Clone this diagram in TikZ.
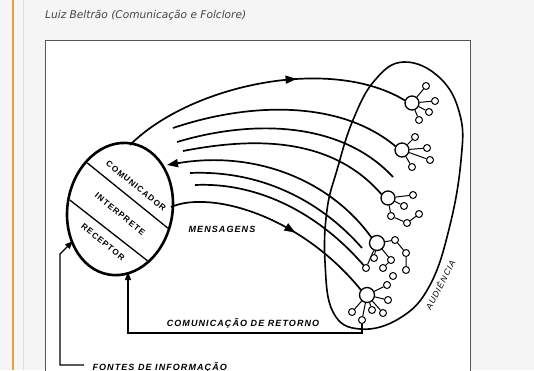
\documentclass[tikz,border=0pt]{standalone}
\usepackage{fontspec}
\newfontfamily\capfont{DejaVu Sans}
\newfontfamily\tagfont[LetterSpace=12]{Liberation Sans}
\usepackage{tikz}
\usetikzlibrary{positioning, shapes.geometric, arrows.meta, decorations.markings}
\definecolor{pagebg}{HTML}{F5F5F5}
\definecolor{barorange}{HTML}{E9A23B}
\definecolor{bargrey}{HTML}{DDDDDD}
\definecolor{boxline}{HTML}{555555}
\definecolor{captext}{HTML}{444444}

\tikzset{
  flow/.style={line width=1.7pt},
  backflow/.style={line width=1.3pt},
  midarrow/.style={postaction={decorate}, decoration={markings,
      mark=at position #1 with {\arrow{Triangle[length=11pt,width=8pt]}}}},
  member/.style={circle, draw, line width=1.3pt, minimum size=14pt, inner sep=0pt},
  peer/.style={circle, draw, line width=1pt, minimum size=7pt, inner sep=0pt},
  role/.style={font=\tagfont\bfseries\fontsize{8.3}{8.3}\selectfont, inner sep=1pt},
  tag/.style={font=\tagfont\bfseries\itshape\fontsize{9}{9}\selectfont}
}

\begin{document}
\begin{tikzpicture}[x=1pt,y=-1pt]
                    \useasboundingbox (0,0) rectangle (534,370);
                    \fill[pagebg] (0,0) rectangle (534,370);
                    \draw[barorange, line width=2pt] (12.5,0) -- (12.5,370);
                    \draw[bargrey, line width=1pt] (23,0) -- (23,370);
                    \node[anchor=base west, font=\capfont\itshape\fontsize{10.6}{11}\selectfont, text=captext, inner sep=0pt] (caption) at (45,18) {Luiz Beltrão (Comunicação e Folclore)};
                    \fill[white] (45,40) rectangle (470,372);
                    \draw[boxline, line width=1pt] (45,372) -- (45,40) -- (470,40) -- (470,372);

                    \begin{scope}
                    \clip (46,41) rectangle (469,370);

                    % communicator
                    \node[draw, ellipse, line width=2.6pt, minimum width=105pt, minimum height=133pt, inner sep=0pt, rotate=-10] (source) at (120,209) {};
                    \begin{scope}
                        \clip[rotate around={-10:(120,209)}] (120,209) ellipse [x radius=51, y radius=65];
                        \draw[line width=1.3pt] (75,153) -- (185,242);
                        \draw[line width=1.3pt] (57,190) -- (167,276);
                    \end{scope}
                    \node[role, rotate=-39] (speaker) at (136,186) {COMUNICADOR};
                    \node[role, rotate=-39] (reader) at (120,214) {INTERPRETE};
                    \node[role, rotate=-39] (hearer) at (103,242) {RECEPTOR};

                    % audience
                    \draw[line width=1.6pt] plot[smooth cycle, tension=0.7] coordinates {(404,62) (440,78) (460,115) (461,160) (450,225) (430,285) (400,318) (360,329) (333,312) (325,262) (327,210) (337,170) (353,120) (375,80)};
                    \node[tag, font=\tagfont\itshape\fontsize{8.5}{9}\selectfont, rotate=63] (audience) at (440,285) {AUDIÊNCIA};

                    \node[member] (aud1) at (412,103) {};
                    \node[member] (aud2) at (402,150) {};
                    \node[member] (aud3) at (388,198) {};
                    \node[member, minimum size=15pt] (aud4) at (377,243) {};
                    \node[member, minimum size=15pt] (aud5) at (367,295) {};

                    \foreach \n/\x/\y in {1/426/86, 2/435/101, 3/429/112, 4/419/120}
                        {\node[peer] (p1\n) at (\x,\y) {}; \draw[line width=1pt] (aud1) -- (p1\n);}
                    \foreach \n/\x/\y in {1/415/137, 2/427/148, 3/430/160, 4/412/167}
                        {\node[peer] (p2\n) at (\x,\y) {}; \draw[line width=1pt] (aud2) -- (p2\n);}
                    \foreach \n/\x/\y in {1/413/195, 2/404/206, 3/391/216}
                        {\node[peer] (p3\n) at (\x,\y) {}; \draw[line width=1pt] (aud3) -- (p3\n);}
                    \node[peer] (p34) at (407,223) {};
                    \node[peer] (p35) at (419,214) {};
                    \draw[line width=1pt] (p33) -- (p34) -- (p35);
                    \foreach \n/\x/\y in {1/395/240, 2/374/258, 3/391/260, 4/366/268}
                        {\node[peer] (p4\n) at (\x,\y) {}; \draw[line width=1pt] (aud4) -- (p4\n);}
                    \node[peer] (p45) at (406,253) {};
                    \node[peer] (p46) at (406,270) {};
                    \node[peer] (p47) at (383,268) {};
                    \node[peer] (p48) at (393,276) {};
                    \draw[line width=1pt] (p41) -- (p45) -- (p46);
                    \draw[line width=1pt] (p43) -- (p47);
                    \foreach \n/\x/\y in {1/387/285, 2/388/300, 3/383/313, 4/372/310, 5/362/320, 6/352/312}
                        {\node[peer] (p5\n) at (\x,\y) {}; \draw[line width=1pt] (aud5) -- (p5\n);}

                    % messages
                    \coordinate (top) at (130,145);
                    \coordinate (m1) at (173,128);
                    \coordinate (m2) at (177,142);
                    \coordinate (m2end) at (393,177);
                    \coordinate (m3) at (183,151);
                    \coordinate (tip) at (167,165);
                    \coordinate (m5) at (190,173);
                    \coordinate (m5end) at (362,248);
                    \coordinate (m6) at (195,185);
                    \coordinate (m7) at (171,207);

                    \draw[flow, midarrow=0.62] (top) .. controls (190,85) and (330,55) .. (aud1.160);
                    \draw[flow] (m1) .. controls (250,102) and (340,100) .. (aud2.150);
                    \draw[flow] (m2) .. controls (250,120) and (340,120) .. (m2end);
                    \draw[flow] (m3) .. controls (250,138) and (330,135) .. (aud3.150);
                    \draw[flow, -{Triangle[length=11pt,width=8pt]}] (aud4.135) .. controls (330,180) and (255,150) .. (tip);
                    \draw[flow] (m5) .. controls (260,170) and (320,200) .. (m5end);
                    \draw[flow] (m6) .. controls (260,182) and (320,215) .. (p44);
                    \draw[flow, midarrow=0.6] (m7) .. controls (210,190) and (300,215) .. (aud5.140);
                    \node[tag] (messages) at (222,229) {MENSAGENS};

                    % feedback
                    \coordinate (retcorner) at (128,333);
                    \coordinate (rethit) at (128,272);
                    \draw[backflow, -{Triangle[length=8pt,width=6pt]}] (p55.south) |- (retcorner) -- (rethit);
                    \node[tag] (feedback) at (243,323) {COMUNICAÇÃO DE RETORNO};

                    % sources
                    \node[tag, anchor=base west] (sources) at (89,370) {FONTES DE INFORMAÇÃO};
                    \coordinate (srccorner) at (60,365);
                    \coordinate (srcbend) at (60,254);
                    \coordinate (srchit) at (73,241);
                    \draw[backflow, -{Triangle[length=8pt,width=6pt]}] (84,365) -- (srccorner) -- (srcbend) -- (srchit);
                    \end{scope}
                \end{tikzpicture}
\end{document}
